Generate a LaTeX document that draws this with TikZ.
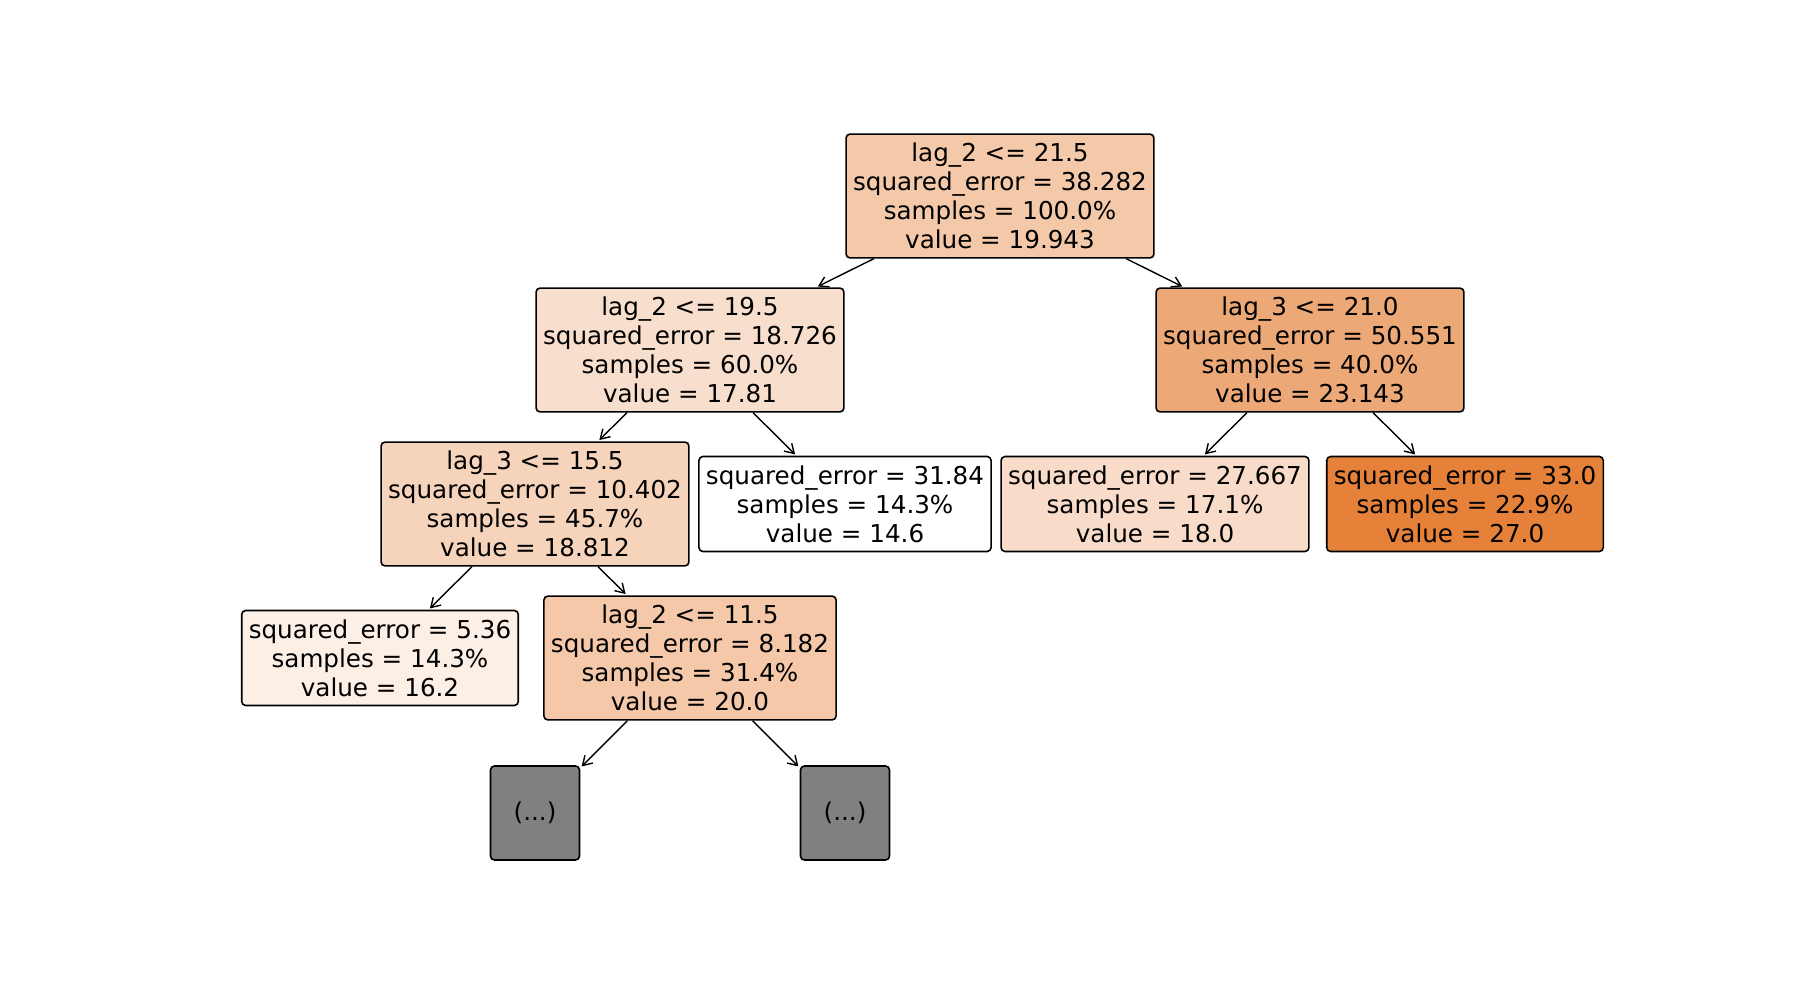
\documentclass[tikz,border=0pt]{standalone}
\usepackage{fontspec}
\setmainfont{DejaVu Sans}
\usetikzlibrary{arrows.meta}

% node fill colours (shade grows with the node value)
\definecolor{v19943}{RGB}{244,201,170}
\definecolor{v17810}{RGB}{248,222,204}
\definecolor{v23143}{RGB}{237,168,119}
\definecolor{v18812}{RGB}{246,212,188}
\definecolor{v14600}{RGB}{255,255,255}
\definecolor{v18000}{RGB}{248,220,201}
\definecolor{v27000}{RGB}{229,129,57}
\definecolor{v16200}{RGB}{252,239,230}
\definecolor{v20000}{RGB}{244,200,169}
\definecolor{cut}{RGB}{128,128,128}

\begin{document}
\begin{tikzpicture}[x=0.01cm, y=-0.01cm,
  treenode/.style={draw=black, line width=0.45pt, rounded corners=0.04cm,
    align=center, inner xsep=2pt, inner ysep=2.6pt,
    font=\fontsize{7}{8.2}\selectfont},
  cutnode/.style={treenode, fill=cut, minimum width=0.89cm, minimum height=0.94cm},
  edge/.style={line width=0.4pt, shorten >=0.5pt,
    -{Straight Barb[length=0.9mm, width=1.1mm]}}]

\useasboundingbox (0,0) rectangle (1800,1000);

% level 0
\node[treenode, fill=v19943] (root) at (1000,196)
  {lag\_2 <= 21.5\\squared\_error = 38.282\\samples = 100.0\%\\value = 19.943};

% level 1
\node[treenode, fill=v17810] (a) at (690,350)
  {lag\_2 <= 19.5\\squared\_error = 18.726\\samples = 60.0\%\\value = 17.81};
\node[treenode, fill=v23143] (b) at (1310,350)
  {lag\_3 <= 21.0\\squared\_error = 50.551\\samples = 40.0\%\\value = 23.143};

% level 2
\node[treenode, fill=v18812] (c) at (535,504)
  {lag\_3 <= 15.5\\squared\_error = 10.402\\samples = 45.7\%\\value = 18.812};
\node[treenode, fill=v14600] (d) at (845,504)
  {squared\_error = 31.84\\samples = 14.3\%\\value = 14.6};
\node[treenode, fill=v18000] (e) at (1155,504)
  {squared\_error = 27.667\\samples = 17.1\%\\value = 18.0};
\node[treenode, fill=v27000] (f) at (1465,504)
  {squared\_error = 33.0\\samples = 22.9\%\\value = 27.0};

% level 3
\node[treenode, fill=v16200] (g) at (380,658)
  {squared\_error = 5.36\\samples = 14.3\%\\value = 16.2};
\node[treenode, fill=v20000] (h) at (690,658)
  {lag\_2 <= 11.5\\squared\_error = 8.182\\samples = 31.4\%\\value = 20.0};

% truncated subtrees
\node[cutnode] (i) at (535,813) {(...)};
\node[cutnode] (j) at (845,813) {(...)};

% connectors
\draw[edge] (root) -- (a);
\draw[edge] (root) -- (b);
\draw[edge] (a) -- (c);
\draw[edge] (a) -- (d);
\draw[edge] (b) -- (e);
\draw[edge] (b) -- (f);
\draw[edge] (c) -- (g);
\draw[edge] (c) -- (h);
\draw[edge] (h) -- (i);
\draw[edge] (h) -- (j);
\end{tikzpicture}
\end{document}
